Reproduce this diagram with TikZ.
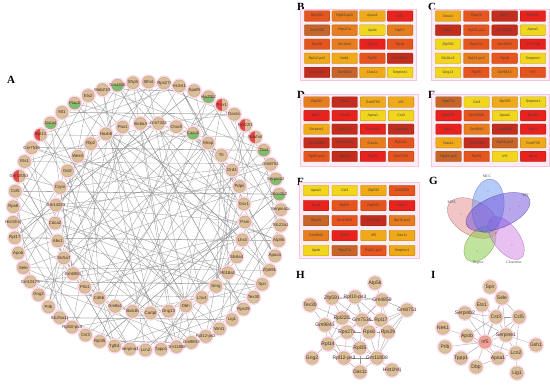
\documentclass[tikz,border=0pt]{standalone}
\usepackage{fontspec}
\setmainfont{Liberation Sans}
\newfontfamily\serifletter{Liberation Serif}
\usetikzlibrary{backgrounds}

\definecolor{nodetan}{RGB}{218,192,152}
\definecolor{nodeline}{RGB}{195,150,130}
\definecolor{halo}{RGB}{252,218,230}
\definecolor{labeltxt}{RGB}{70,40,40}
\definecolor{linkgray}{RGB}{150,150,150}
\definecolor{linkpink}{RGB}{240,150,170}
\definecolor{partgreen}{RGB}{125,190,110}
\definecolor{partred}{RGB}{235,70,70}
\definecolor{hubpink}{RGB}{238,160,150}
\definecolor{gridbg}{RGB}{253,236,244}
\definecolor{gridline}{RGB}{248,196,222}
\definecolor{c1}{RGB}{242,214,30}
\definecolor{c2}{RGB}{240,170,25}
\definecolor{c3}{RGB}{232,125,30}
\definecolor{c4}{RGB}{230,85,30}
\definecolor{c5}{RGB}{232,35,30}
\definecolor{c6}{RGB}{195,45,30}
\definecolor{c7}{RGB}{200,100,40}
\definecolor{vMCC}{RGB}{110,150,240}
\definecolor{vEPC}{RGB}{110,80,220}
\definecolor{vMNC}{RGB}{230,140,140}
\definecolor{vDeg}{RGB}{130,200,60}
\definecolor{vClo}{RGB}{210,130,230}

\tikzset{
  gn/.style={circle, fill=nodetan, draw=nodeline, line width=0.3pt, minimum size=12pt, inner sep=0pt,
    text=labeltxt, font=\fontsize{4.3}{5}\selectfont, preaction={draw=halo, line width=3.5pt},
    execute at begin node={\hbox to 0pt\bgroup\hss}, execute at end node={\hss\egroup}},
  gg/.style={gn, path picture={\fill[partgreen] (path picture bounding box.west) rectangle (path picture bounding box.south east);}},
  gr/.style={gn, path picture={\fill[partred] (path picture bounding box.north west) rectangle (path picture bounding box.south);}},
  hn/.style={gn, minimum size=12.5pt, font=\fontsize{5}{6}\selectfont},
  hub/.style={hn, fill=hubpink},
  link/.style={linkgray, line width=0.3pt},
  pinklink/.style={linkpink, line width=0.35pt},
  cell/.style={rectangle, rounded corners=0.8pt, minimum width=25.5pt, minimum height=10.5pt, inner sep=0pt,
    font=\fontsize{3.6}{4}\selectfont, text=black!75, fill=#1, draw=#1!75!black, line width=0.3pt},
  panel/.style={font=\serifletter\bfseries\fontsize{11}{11}\selectfont, anchor=north west, inner sep=0pt},
  vlabel/.style={font=\serifletter\fontsize{3.8}{4}\selectfont, text=black!70},
  vnum/.style={font=\serifletter\fontsize{2.8}{3}\selectfont, text=black!60},
}

% one heat map: prefix, x0, y0, dx, dy, list of label/colour
\newcommand{\heatgrid}[6]{%
  \foreach \lab/\col [count=\k from 0] in {#6} {
    \pgfmathtruncatemacro{\cx}{mod(\k,4)}
    \pgfmathtruncatemacro{\ry}{floor(\k/4)}
    \node[cell=\col] (#1\k) at ({#2+\cx*#4},{#3+\ry*#5}) {\lab};
  }%
}

\begin{document}
\begin{tikzpicture}[x=1pt, y=-1pt]
\useasboundingbox (0,0) rectangle (550,384);

% A: circular network
\node[panel] (lA) at (7,76) {A};
\foreach \n/\s [count=\i] in {Gm4858/gg, Sfrp5/gn, Slfn4/gn, Rps27l/gn, Hs3st1/gn, Apol9/gn, Hsd3b2/gg, Prrx1/gr,
    Oas1c/gn, Rpl22l1/gr, Ndufa4/gr, Tbx4/gg, Gm8751/gn, Serpinb2/gg, Slco1b2/gg, Serpina1c/gn, Slc22a1/gn,
    Atp5k/gn, Apoa1/gn, Zfp591/gn, Spn/gn, Tex30/gn, Rps29/gn, Lig1/gn, Wnt1/gn, Rpl12-ps3/gn, Gm9843/gn,
    Gm11808/gn, Tppp1/gn, Lcn2/gn, Serpina3/gn, Tgfb1/gn, Rpl35/gn, Cst3/gn, Rpl10-ps3/gn, Slc25a11/gn,
    Prlb/gn, Gng2/gn, Gm10175/gn, Sele/gn, Apob/gn, Rpl17/gn, Hist1h4j/gn, Rps8/gn, Ccl5/gn, Gm10053/gr,
    Ets1/gn, Gm7536/gn, Rpl14/gr, Gsta4/gg, Mt1/gn, Plac8/gg, Ets2/gn, Mab21l1/gn}
  \node[\s] (o\i) at ({147+134*cos(102.7-(\i-1)*6.667)},{216-134*sin(102.7-(\i-1)*6.667)}) {\n};
\foreach \n/\s [count=\i] in {Pax1/gn, Slc6a3/gn, Gm7334/gn, Chodl/gn, Casc5/gg, Mrap/gn, Ttr/gn, Drd4/gn,
    Pdpn/gn, Gsx1/gn, Pam/gn, Lhx3/gn, Slc6a4/gn, Rtl18a3/gn, Srng/gn, Lhx4/gn, Dbh/gn, Gng13/gn, Cartpt/gn,
    Bub1b/gn, Gm8a1/gn, Cd6b/gn, Pitx1/gn, Gm6651/gn, Slc5a7/gn, Abs1/gn, Cdca2/gn, Gm14203/gn, Crym/gn,
    Gsl2/gn, Wee2/gn, Rlp2/gn, Hoxb6/gn}
  \node[\s] (c\i) at ({150+95*cos(106.7-(\i-1)*10.909)},{218-95*sin(106.7-(\i-1)*10.909)}) {\n};
\begin{scope}[on background layer]
  \foreach \i in {1,...,54} {
    \pgfmathtruncatemacro{\j}{mod(\i*17+5,54)+1}
    \pgfmathtruncatemacro{\k}{mod(\i*23+11,54)+1}
    \pgfmathtruncatemacro{\m}{mod(\i*7+3,33)+1}
    \draw[link] (o\i) -- (o\j) (o\i) -- (o\k) (o\i) -- (c\m);
  }
  \foreach \i in {1,...,33} {
    \pgfmathtruncatemacro{\j}{mod(\i*13+9,33)+1}
    \draw[link] (c\i) -- (c\j);
  }
\end{scope}

% B--F: heat maps
\node[panel] (lB) at (297,3) {B};
\node[panel] (lC) at (428,3) {C};
\node[panel] (lD) at (297,91) {D};
\node[panel] (lE) at (428,91) {E};
\node[panel] (lF) at (297,178) {F};
\filldraw[fill=gridbg, draw=gridline, line width=0.6pt] (300,9) rectangle (416,80) (431,9) rectangle (549,80)
  (300,94) rectangle (418,166) (431,94) rectangle (549,166) (299,182) rectangle (419,258);
\heatgrid{b}{317}{16}{27.7}{14.1}{Rpl22l1/c4, Rpl10-ps3/c3, Apoa1/c2, Irf5/c5,
  Gm7536/c7, Rps27a/c3, Apob/c1, Rpl17/c3, Rps29/c4, Slc16a3/c3, Rpl14/c5, Rps8/c4,
  Rpl12-ps3/c2, Nek1/c2, Rpl35/c4, Gm4859/c6, Gm11808/c6, Gm9843/c7, Oas1c/c2, Serpine1/c1}
\heatgrid{c}{448}{16}{28.3}{14.1}{Oas1c/c2, Rps29/c4, Rpl17/c6, Rpl22l1/c5,
  Rpl14/c6, Rpl10-ps3/c4, Gm11808/c6, Apoa1/c1, Zfp593/c1, Rps27a/c4, Gm4859/c4, Gm7536/c5,
  Slc16a3/c1, Rpl12-ps3/c3, Rps8/c4, Serpine1/c1, Gng13/c1, Rpl35/c4, Gm9843/c3, Irf5/c4}
\heatgrid{d}{316.5}{102}{28.2}{13.6}{Zfp593/c3, Rps8/c6, Gm8750/c2, Irf5/c2,
  Rpl17/c5, Rps29/c5, Apoa1/c1, Cst3/c1, Serpine1/c2, Rps27a/c6, Gm4859/c5, Gm9843/c6,
  Gm11808/c6, Rpl12-ps3/c6, Oas1c/c3, Rpl22l1/c4, Rpl10-ps3/c4, Rpl14/c6, Rpl35/c5, Gm7536/c4}
\heatgrid{e}{448.5}{102}{28.2}{13.6}{Rps27a/c7, Cst3/c1, Zfp593/c2, Serpine1/c1,
  Rpl22l1/c5, Gm11808/c4, Apoa1/c1, Rps29/c5, Rpl17/c5, Gm9843/c3, Gm4859/c6, Rpl14/c5,
  Oas1c/c2, Gm7536/c6, Rpl10-ps3/c7, Gm8750/c2, Rpl12-ps3/c7, Rpl35/c4, Irf5/c1, Rps8/c5}
\heatgrid{f}{316}{190.5}{28.7}{15}{Apoa1/c1, Cst3/c1, Zfp593/c2, Gm4859/c4,
  Rps8/c5, Rpl35/c4, Rpl22l1/c4, Rpl17/c5, Rps29/c7, Gm11808/c4, Gm7536/c6, Rpl10-ps3/c3,
  Gm9843/c3, Rpl14/c5, Irf5/c2, Oas1c/c2, Apob/c1, Rps27a/c7, Rpl12-ps3/c4, Serpine1/c2}

% G: Venn
\node[panel] (lG) at (429,177) {G};
\begin{scope}[shift={(490,222)}, y=1pt]
  \filldraw[fill=vMNC, draw=vMNC!70!black, fill opacity=.5, line width=0.2pt, rotate around={-30:(-17,4)}] (-17,4) ellipse [x radius=28, y radius=17];
  \filldraw[fill=vDeg, draw=vDeg!70!black, fill opacity=.5, line width=0.2pt, rotate around={52:(-10,-22)}] (-10,-22) ellipse [x radius=20, y radius=13];
  \filldraw[fill=vClo, draw=vClo!70!black, fill opacity=.5, line width=0.2pt, rotate around={-53:(16,-16)}] (16,-16) ellipse [x radius=25, y radius=13];
  \filldraw[fill=vMCC, draw=vMCC!70!black, fill opacity=.5, line width=0.2pt, rotate around={-6:(-2,16)}] (-2,16) ellipse [x radius=16, y radius=27];
  \filldraw[fill=vEPC, draw=vEPC!70!black, fill opacity=.5, line width=0.2pt, rotate around={22:(8,10)}] (8,10) ellipse [x radius=34, y radius=16];
  \node[vlabel] (vmcc) at (-3,46) {MCC};
  \node[vlabel] (vepc) at (36,27) {EPC};
  \node[vlabel] (vmnc) at (-38,20) {MNC};
  \node[vlabel] (vdeg) at (-12,-41) {Degree};
  \node[vlabel] (vclo) at (24,-40) {Closeness};
  \foreach \p/\q/\t in {-2/30/1, 29/15/1, -29/7/1, -13/-30/1, 22/-24/1, 1/0/15, -10/18/0, 4/22/0, 20/12/0,
      -22/-4/0, -8/-10/0, 6/-12/0, 14/-6/0, -14/8/0}
    \node[vnum] at (\p,\q) {\t};
\end{scope}

% H: sub-network
\node[panel] (lH) at (296,271) {H};
\foreach \n/\x/\y [count=\i] in {Atp5k/375/283, Zfp591/332/298, Rpl10-ps3/355/297, Gm4859/382/300,
    Tex30/310/305, Gm8751/407/310, Rpl22l1/342/318, Gm7536/362/320, Rpl17/381/320, Gm9843/325/325,
    Rps27a/347/332, Rps8/369/332, Rps29/388/332, Rpl14/328/344, Rpl35/360/348, Rpl12-ps3/344/358,
    Gm11808/377/358, Gng2/312/358, Oas1c/360/372, Hist1h4j/392/370}
  \node[hn] (h\i) at (\x,\y) {\n};
\begin{scope}[on background layer]
  \foreach \a/\b in {1/4, 2/3, 2/7, 2/10, 2/4, 3/4, 3/7, 3/8, 3/9, 3/12, 4/9, 4/8, 4/6, 4/13, 5/7, 5/10,
      6/9, 6/13, 6/17, 6/12, 7/8, 7/10, 7/11, 7/14, 8/9, 8/11, 8/12, 8/15, 9/12, 9/13, 9/17, 10/11,
      10/14, 10/16, 11/12, 11/14, 11/15, 11/17, 12/15, 12/13, 12/17, 13/17, 14/16, 14/15, 15/16,
      15/17, 15/19, 16/17, 17/19, 17/20, 18/14, 2/8}
    \draw[link] (h\a) -- (h\b);
  \foreach \a/\b in {4/11, 7/12, 14/19, 16/19, 11/16}
    \draw[pinklink] (h\a) -- (h\b);
\end{scope}

% I: sub-network
\node[panel] (lI) at (431,271) {I};
\foreach \n/\x/\y/\s [count=\i] in {Spn/490/287/hn, Sele/502/298/hn, Ets1/482/305/hn, Serpinb2/465/313/hn,
    Cst3/496/317/hn, Ccl5/519/317/hn, Nek1/443/328/hn, Apob/467/336/hn, Serpine1/506/335/hn,
    Irf5/485/342/hub, Gsh1/536/345/hn, Prlb/445/347/hn, Lcn2/516/353/hn, Tppp1/461/358/hn,
    Apoa1/498/358/hn, Dbp/476/367/hn, Lig1/517/373/hn}
  \node[\s] (n\i) at (\x,\y) {\n};
\begin{scope}[on background layer]
  \foreach \a/\b in {1/2, 2/5, 2/6, 2/10, 2/9, 3/5, 3/10, 4/5, 4/10, 4/9, 5/6, 5/9, 5/10, 5/8, 6/9,
      6/13, 6/10, 7/10, 8/10, 8/15, 9/10, 9/13, 9/11, 10/12, 10/14, 10/16, 10/15, 10/13, 13/17, 13/15,
      15/16, 9/15}
    \draw[link] (n\a) -- (n\b);
\end{scope}
\end{tikzpicture}
\end{document}
